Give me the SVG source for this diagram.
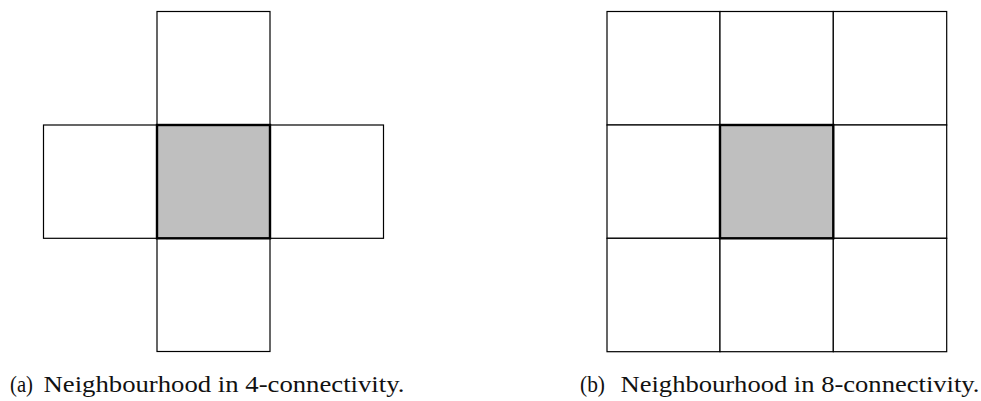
<svg xmlns="http://www.w3.org/2000/svg" width="981" height="401" viewBox="0 0 981 401">
<style>
.cell{fill:#ffffff;stroke:#000;stroke-width:1.2}
.center{fill:#bfbfbf;stroke:#000;stroke-width:2.4}
.cap{font-family:"Liberation Serif","Times New Roman",serif;font-size:23px;fill:#111}
</style>
<rect width="981" height="401" fill="#fff"/>
<g id="fig-a">
<g id="a-top"><rect class="cell" x="157" y="11.5" width="113" height="113.5"/></g>
<g id="a-left"><rect class="cell" x="43.5" y="125" width="113.5" height="113.3"/></g>
<g id="a-right"><rect class="cell" x="270" y="125" width="113.5" height="113.3"/></g>
<g id="a-bottom"><rect class="cell" x="157" y="238.3" width="113" height="113.2"/></g>
<g id="a-center"><rect class="center" x="157" y="125" width="113" height="113.3"/></g>
</g>
<g id="fig-b">
<g id="b-cells">
<rect class="cell" x="607" y="11.5" width="113" height="113.5"/>
<rect class="cell" x="720" y="11.5" width="113.3" height="113.5"/>
<rect class="cell" x="833.3" y="11.5" width="113.4" height="113.5"/>
<rect class="cell" x="607" y="125" width="113" height="113.3"/>
<rect class="cell" x="833.3" y="125" width="113.4" height="113.3"/>
<rect class="cell" x="607" y="238.3" width="113" height="113.4"/>
<rect class="cell" x="720" y="238.3" width="113.3" height="113.4"/>
<rect class="cell" x="833.3" y="238.3" width="113.4" height="113.4"/>
</g>
<g id="b-center"><rect class="center" x="720" y="125" width="113.3" height="113.3"/></g>
</g>
<g id="captions">
<text class="cap" x="10" y="391.5" textLength="23" lengthAdjust="spacingAndGlyphs">(a)</text>
<text class="cap" x="43.5" y="391.5" textLength="361" lengthAdjust="spacingAndGlyphs">Neighbourhood in 4-connectivity.</text>
<text class="cap" x="580" y="391.5" textLength="25" lengthAdjust="spacingAndGlyphs">(b)</text>
<text class="cap" x="620.5" y="391.5" textLength="359" lengthAdjust="spacingAndGlyphs">Neighbourhood in 8-connectivity.</text>
</g>
</svg>
